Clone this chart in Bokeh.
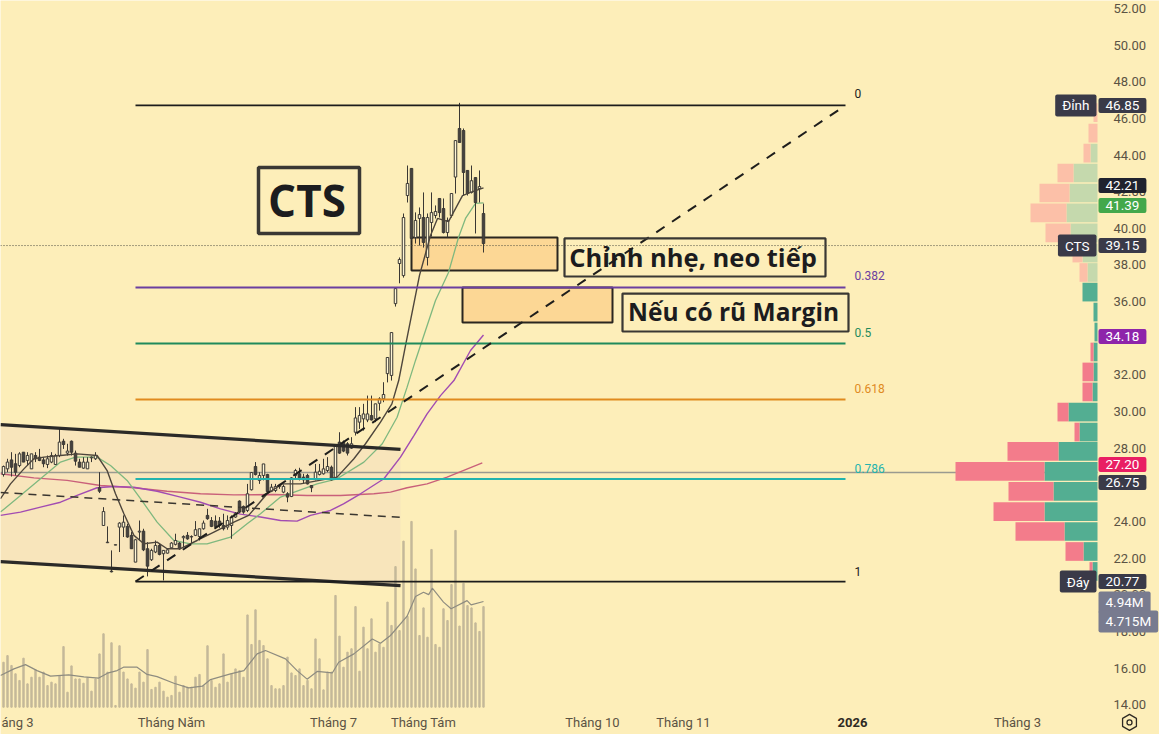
from bokeh.plotting import figure
from bokeh.models import Range1d, FixedTicker, NumeralTickFormatter, Label
from bokeh.core.properties import value
from bokeh.embed import file_html
from bokeh.resources import INLINE

BG = "#fdeeb9"
TICK_COL = "#5b5344"
NOTE_FONT = "Open Sans"

# ---------- data ----------
opens = [26.56,26.87,27.36,27.15,27.05,27.78,27.33,26.87,27.6,27.51,
         27.36,27.11,27.24,27.11,27.6,28.38,27.73,28.38,27.73,27.24,
         26.91,26.87,27.47,27.42,25.84,23.78,22.84,21.29,22.71,23.69,
         23.69,23.73,23.24,21.78,23.42,23.47,22.51,21.91,22.33,22.69,
         22.24,22.27,22.56,22.75,22.82,23.11,23.24,23.15,23.24,23.18,
         23.6,24.33,24.05,24.02,24.02,23.78,23.69,23.78,24.24,25.11,
         24.82,24.6,25.73,27.0,26.24,26.51,26.56,25.65,25.69,25.91,
         25.6,25.51,25.36,26.51,26.6,26.42,26.51,25.96,26.33,26.56,
         26.6,26.78,26.96,26.33,28.33,28.33,28.24,28.0,28.87,29.42,
         29.6,29.54,29.78,29.6,30.45,30.69,32.07,31.97,35.89,38.08,
         37.42,41.79,43.27,39.5,40.54,40.59,38.41,40.32,40.7,41.63,
         41.08,39.77,40.7,42.8,45.45,45.34,43.16,41.96,42.77,42.17,40.81]
highs = [27.05,27.42,27.78,27.69,27.78,27.78,27.78,27.69,27.78,27.96,
         27.51,27.6,27.78,27.69,29.11,28.51,28.24,28.42,27.87,27.42,
         27.51,27.51,27.55,27.78,26.69,24.78,23.73,22.42,22.73,23.96,
         24.33,23.87,23.42,23.05,24.05,23.6,22.87,22.51,22.96,22.78,
         22.42,22.51,22.87,23.33,22.87,23.24,23.42,23.24,24.02,23.6,
         24.05,24.69,24.24,24.33,24.24,24.42,24.33,24.33,24.51,25.15,
         24.87,26.05,26.69,27.24,26.69,27.14,26.6,26.05,26.05,26.05,
         26.02,25.6,26.42,26.87,26.93,26.6,26.6,25.96,27.14,27.14,
         27.42,27.51,27.05,28.14,28.87,28.42,28.33,28.6,30.24,30.24,
         30.42,30.87,30.87,30.42,30.78,31.6,32.95,34.31,36.77,38.41,
         40.81,43.43,43.27,40.87,41.14,41.96,40.81,41.96,41.25,41.63,
         41.63,40.59,41.9,44.79,46.85,45.45,43.16,43.43,42.77,43.16,41.35]
lows = [26.45,26.69,26.45,26.51,26.96,27.24,27.05,26.87,27.24,27.29,
        26.96,26.91,27.18,27.11,27.51,27.96,27.6,27.6,27.05,26.96,
        26.87,26.87,27.24,27.36,25.55,23.78,22.82,21.22,22.71,22.33,
        23.15,23.11,22.51,21.78,22.96,22.38,21.0,21.84,22.27,22.15,
        20.78,22.24,22.51,22.69,22.45,22.6,23.0,22.78,23.2,22.96,
        23.55,24.09,23.69,23.6,23.65,23.51,23.55,23.05,24.2,24.45,
        24.42,24.51,25.69,26.51,26.05,26.24,25.6,25.6,25.6,25.78,
        25.54,25.05,25.33,26.33,26.24,26.05,26.02,25.6,26.24,26.51,
        26.56,26.69,26.24,26.27,27.69,27.78,27.6,27.96,28.69,29.05,
        28.96,29.42,29.51,29.42,30.05,30.51,31.59,31.69,35.73,37.0,
        37.31,41.41,39.34,39.17,39.06,38.95,37.97,39.55,40.54,40.59,
        39.72,39.5,40.59,41.9,44.69,41.79,41.79,41.9,39.72,41.41,38.68]
closes = [27.0,27.24,26.96,26.69,27.69,27.24,27.6,27.69,27.42,27.33,
          27.15,27.42,27.6,27.6,28.33,28.2,27.84,27.78,27.29,26.96,
          27.24,27.24,27.51,27.6,25.65,24.54,22.87,21.25,22.73,23.91,
          23.96,23.15,22.51,23.0,23.47,22.45,21.56,22.42,22.69,22.2,
          22.42,22.45,22.82,22.96,22.51,23.18,23.05,23.18,23.55,23.6,
          23.91,24.15,23.73,23.73,23.78,23.6,24.05,24.24,24.45,24.51,
          24.51,25.51,26.67,26.56,26.51,27.14,25.63,25.87,25.91,25.98,
          25.91,25.33,26.38,26.78,26.33,26.27,26.05,25.84,26.69,26.74,
          26.87,27.0,26.27,28.14,27.73,27.84,27.73,28.24,29.65,29.78,
          29.87,29.87,29.54,30.42,30.69,30.93,32.95,34.31,36.71,38.3,
          40.59,42.45,39.45,40.43,40.75,39.23,40.59,40.86,40.92,40.86,
          39.77,40.43,41.9,44.79,44.69,43.05,41.9,42.6,41.41,42.28,39.17]

volumes = [2.10,2.41,1.95,1.56,1.25,2.29,1.09,1.40,1.74,1.40,
           1.64,1.01,1.17,1.09,1.48,2.83,.70,1.93,1.32,1.32,
           1.12,1.37,.75,1.32,2.49,3.43,1.64,3.01,.08,2.87,
           1.64,1.32,1.09,.89,1.64,1.17,2.69,.83,.93,1.17,
           .75,.47,.55,1.45,.70,1.01,.93,.93,1.40,1.53,
           1.01,2.87,1.25,.93,1.09,2.49,1.17,1.56,1.79,1.71,
           1.40,4.31,2.93,4.55,3.12,2.88,2.26,1.01,.86,.86,
           1.01,2.34,1.60,1.48,1.79,1.01,1.25,.86,3.19,2.26,
           .81,1.64,1.64,5.22,3.32,1.87,2.57,2.73,4.70,1.68,
           3.74,2.73,4.13,2.57,2.96,2.80,4.91,3.82,6.57,3.58,
           7.76,4.24,8.68,6.46,3.35,4.64,3.27,7.37,2.93,2.80,
           4.60,4.05,5.73,8.26,3.79,5.79,4.75,4.64,3.94,3.54,4.70]

vol_ma_x = [-0.75,2.6,5.5,8.4,11.75,16.3,20.1,23.8,26,28.4,30,33.4,35.9,38.4,42.6,46.3,49.7,51.75,
            56.75,60.1,63.4,65.5,70.5,73.4,75.9,78.4,82.2,83.8,87.6,92.2,94.25,96.75,100.9,103,
            105,106.3,107.2,110,111.9,115.9,116.9,120]
vol_ma_y = [1.48,1.79,1.99,1.71,1.45,1.51,1.42,1.36,1.59,1.71,1.87,1.87,1.53,1.43,1.12,.90,.98,1.29,
            1.56,1.71,2.49,2.65,2.26,1.71,1.31,1.67,1.60,2.10,2.49,3.19,2.99,3.35,4.25,5.17,
            5.37,5.26,5.56,4.91,4.60,4.98,4.78,4.94]

ema_fast_x = [-0.75,1.75,5.1,7.6,10.1,14.25,18.4,23.4,25.9,28,30.1,32.6,35.1,38.4,40.9,44.25,48.4,52.6,
              57.6,61.3,65.9,69.7,74.25,83.4,87.6,90.5,94.25,97.1,98.8,100.5,104,106.75,108.5,111.25,
              114.75,116.75,120]
ema_fast_y = [25.24,26.05,26.87,27.42,27.51,27.6,27.69,27.6,26.78,25.51,24.42,23.24,22.78,22.87,22.51,22.51,22.96,23.42,
              23.96,24.33,25.51,26.05,26.05,26.42,27.42,28.24,29.42,30.42,31.69,33.6,37.43,39.61,40.54,40.37,
              41.79,41.96,42.21]

ema_mid_x = [-0.75,4.25,9.25,14.25,18,23.4,26.75,30.9,34.25,38.4,42.6,46.75,50.9,56.75,60.9,64.25,
             69.25,78.4,83.4,90.1,94.7,98.4,100.9,103,108,111.25,113.75,115.5,118,120]
ema_mid_y = [24.51,25.42,26.33,27.24,27.51,27.51,27.05,26.24,25.24,23.96,22.96,22.78,22.78,23.15,23.87,24.42,
             25.33,26.05,26.33,27.24,28.24,29.69,31.33,32.79,36.06,37.59,39.5,40.54,41.36,41.39]

ema_slow_x = [-0.75,4.25,9.25,14.25,18.4,23.4,27.6,32.6,38.4,44.25,49.25,54.25,59.25,64.25,69.25,73.4,
              76.75,81.75,85,89.25,95.1,99.25,102.6,105.9,109.25,112.6,116.75,120]
ema_slow_y = [24.33,24.51,24.78,25.05,25.42,25.84,25.91,25.87,25.65,25.33,25.05,24.69,24.4,24.24,24.05,24.02,
              24.33,24.6,24.96,25.51,26.33,27.51,28.69,29.87,30.87,31.69,33.33,34.18]

ema_long_x = [-0.75,7.6,15.9,24.25,32.6,40.9,49.25,57.6,67.6,75.9,84.25,92.6,96.75,100.9,105.9,110.9,119.7]
ema_long_y = [26.6,26.38,26.24,25.96,25.84,25.65,25.51,25.45,25.47,25.42,25.42,25.51,25.6,25.84,26.05,26.42,27.2]

fib_levels = ["0", "0.382", "0.5", "0.618", "0.786", "1"]
fib_prices = [46.71, 36.77, 33.71, 30.66, 26.32, 20.72]
fib_start, fib_end = 33.0, 210.5
fib_label_x = 212.75
fib_label_y = [47.36, 37.42, 34.31, 31.27, 26.87, 21.27]
fib_colors = ["#1c1c1c", "#6b3fa0", "#1f8a5c", "#e08a1e", "#22b3ae", "#1c1c1c"]

channel_x = [-0.75, 99.25]
channel_top = [29.29, 27.93]
channel_mid = [25.58, 24.22]
channel_bottom = [21.81, 20.5]

trend_x = [33.0, 210.5]
trend_y = [20.72, 46.71]

zone_left = [102.0, 114.75]
zone_right = [138.5, 152.25]
zone_top = [39.5, 36.77]
zone_bottom = [37.7, 34.86]

note_texts = ["CTS", "Chỉnh nhẹ, neo tiếp", "Nếu có rũ Margin"]
note_left = [63.75, 140.25, 154.75]
note_right = [89.0, 205.5, 211.25]
note_top = [43.32, 39.45, 36.44]
note_bottom = [39.72, 37.37, 34.37]
note_sizes = ["44px", "25.5px", "24.5px"]

last_price_line = 39.06
prev_line = 26.67

profile_prices = [46.32,45.2,44.11,43.02,41.93,40.84,39.75,38.65,37.59,36.52,35.43,34.34,
                  33.25,32.16,31.07,29.97,28.88,27.82,26.73,25.64,24.54,23.45,22.36,21.27]
profile_up = [0,0,7,24,28,31,27,15,10,15,4,3,4,4,5,29,18,39,53,44,53,33,14,5]
profile_down = [4,9,7,16,30,36,25,10,8,0,0,0,3,11,10,11,5,51,89,45,51,49,18,3]

y_ticks = [14,16,18,20,22,24,26,28,30,32,34,36,38,40,42,44,46,48,50,52]
x_ticks = [42.0, 82.5, 105.0, 147.25, 170.0, 253.5]
x_labels = ["Tháng Năm", "Tháng 7", "Tháng Tám", "Tháng 10", "Tháng 11", "Tháng 3"]
edge_label = ("áng 3", 7.5)
year_label = ("2026", 212.25)

tag_texts = ["46.85", "42.21", "41.39", "39.15", "34.18", "27.20", "26.75", "20.77", "4.94M", "4.715M"]
tag_prices = [46.71, 42.34, 41.25, 39.06, 34.1, 27.11, 26.13, 20.72, 19.58, 18.54]
tag_colors = ["#3a3a48", "#20222e", "#43a84b", "#3a3a48", "#8e24aa", "#e91e63", "#3a3a48", "#3a3a48", "#787b8f", "#787b8f"]
side_texts = ["Đỉnh", "CTS", "Đáy"]
side_prices = [46.71, 39.06, 20.72]

AXIS_BAND_Y = 13.03

# ---------- figure ----------
p = figure(width=1159, height=734, output_backend="svg", toolbar_location=None,
           x_range=Range1d(-0.75, 289.0), y_range=Range1d(12.37, 52.437),
           background_fill_color=BG, border_fill_color=BG,
           min_border=0, outline_line_color=None, x_axis_location="below", y_axis_location="right")
p.extra_y_ranges = {"vol": Range1d(-1.276, 33.02)}
p.extra_x_ranges = {"profile": Range1d(1097, -62)}
p.grid.visible = False

p.xaxis.fixed_location = 13.98
p.yaxis.fixed_location = 274.5
p.xaxis.ticker = FixedTicker(ticks=x_ticks)
p.xaxis.major_label_overrides = dict(zip(x_ticks, x_labels))
p.yaxis.ticker = FixedTicker(ticks=y_ticks)
p.yaxis.formatter = NumeralTickFormatter(format="0.00")
for ax, standoff in ((p.xaxis[0], 4), (p.yaxis[0], 6)):
    ax.axis_line_color = None
    ax.major_tick_line_color = None
    ax.minor_tick_line_color = None
    ax.major_label_standoff = standoff
    ax.major_label_text_color = TICK_COL
    ax.major_label_text_font = "Roboto"
    ax.major_label_text_font_size = "13px"

xs = list(range(len(closes)))

# channel
p.varea(x=channel_x, y1=channel_bottom, y2=channel_top, fill_color="#f8e5bb", fill_alpha=1)

# volume
p.vbar(x=xs, top=volumes, bottom=0, width=0.34, color="#c4b899", y_range_name="vol")
p.line(vol_ma_x, vol_ma_y, line_color="#8e8c80", line_width=1.2, y_range_name="vol")

# zones
p.quad(left=zone_left, right=zone_right, top=zone_top, bottom=zone_bottom,
       fill_color="#fcd795", line_color="#2a2620", line_width=2)

# horizontal reference lines
p.line([-0.75, 273.5], [prev_line, prev_line], line_color="#9a9a90", line_width=1.5)
p.line([-0.75, 265.5], [last_price_line, last_price_line], line_color="#4a4a40", line_width=1, line_dash=[1, 2])

# long averages
p.line(ema_long_x, ema_long_y, line_color="#c9607a", line_width=1.4)
p.line(ema_slow_x, ema_slow_y, line_color="#a24cb2", line_width=1.4)
p.line(ema_mid_x, ema_mid_y, line_color="#7fb87f", line_width=1.3)

# candles
up = [i for i in xs if closes[i] >= opens[i]]
dn = [i for i in xs if closes[i] < opens[i]]
p.segment(xs, lows, xs, highs, line_color="#3a3733", line_width=1)
p.vbar(up, top=[closes[i] for i in up], bottom=[opens[i] for i in up], width=0.62,
       fill_color="#fff6d6", line_color="#3a3733", line_width=1)
p.vbar(dn, top=[opens[i] for i in dn], bottom=[closes[i] for i in dn], width=0.62,
       fill_color="#45423f", line_color="#3a3733", line_width=1)
p.line(ema_fast_x, ema_fast_y, line_color="#4e463c", line_width=1.4)

# channel lines
p.line(channel_x, channel_top, line_color="#2b2a28", line_width=3.2)
p.line(channel_x, channel_bottom, line_color="#2b2a28", line_width=3.2)
p.line(channel_x, channel_mid, line_color="#3a3630", line_width=1.5, line_dash=[8, 6])

# fib
for lvl, price, ly, col in zip(fib_levels, fib_prices, fib_label_y, fib_colors):
    p.line([fib_start, fib_end], [price, price], line_color=col, line_width=2 if col != "#1c1c1c" else 1.8)
    p.add_layout(Label(x=fib_label_x, y=ly, text=lvl, text_color=col, text_font="Roboto",
                       text_font_size="12px", text_baseline="middle"))

# diagonal trend
p.line(trend_x, trend_y, line_color="#1f1e1c", line_width=2, line_dash=[10, 9])

# notes
for txt, l, r, t, b, sz in zip(note_texts, note_left, note_right, note_top, note_bottom, note_sizes):
    p.quad(left=[l], right=[r], top=[t], bottom=[b], fill_color=None, line_color="#3a3834",
           line_width=3.5 if txt == "CTS" else 2.2)
    p.text(x=[(l + r) / 2 - 0.5], y=[(t + b) / 2 + 0.05], text=[txt], text_align="center", text_baseline="middle",
           text_font=value(NOTE_FONT), text_font_style="bold", text_font_size=sz, text_color="#1c1c1e")

# volume profile
r_light = 9
for lo, hi, cu, cd in ((0, r_light, "#c5d9ad", "#fcc0a8"), (r_light, len(profile_prices), "#53ae92", "#f37c8b")):
    ys = profile_prices[lo:hi]
    ups = profile_up[lo:hi]
    dns = [a + b for a, b in zip(ups, profile_down[lo:hi])]
    p.hbar(y=ys, left=0, right=ups, height=1.02, fill_color=cu, line_color=None, x_range_name="profile")
    p.hbar(y=ys, left=ups, right=dns, height=1.02, fill_color=cd, line_color=None, x_range_name="profile")

# right-side price tags
tag_x = 273.75
for txt, price, col in zip(tag_texts, tag_prices, tag_colors):
    p.add_layout(Label(x=tag_x, y=price, text=txt, text_color="white", text_font="Roboto",
                       text_font_size="13.5px", text_baseline="middle", background_fill_color=col,
                       padding=(7, 3), border_radius=2))
for txt, price in zip(side_texts, side_prices):
    p.add_layout(Label(x=273.25, y=price, text=txt, text_color="white", text_font="Roboto",
                       text_font_size="13.5px", text_baseline="middle", text_align="right",
                       background_fill_color="#3a3a48", padding=(7, 3), border_radius=2))

# x labels that need their own handling: the part left visible at the page edge, and the bold year
p.add_layout(Label(x=edge_label[1], y=AXIS_BAND_Y, text=edge_label[0], text_color=TICK_COL, text_font="Roboto",
                   text_font_size="13px", text_baseline="middle", text_align="right"))
p.add_layout(Label(x=year_label[1], y=AXIS_BAND_Y, text=year_label[0], text_color="#2e2a24", text_font="Roboto",
                   text_font_style="bold", text_font_size="13px", text_baseline="middle", text_align="center"))

# settings icon
p.scatter([281.5], [AXIS_BAND_Y], marker="hex", size=16, angle=0.5236, fill_color=None, line_color="#2e2a24",
          line_width=1.3)
p.scatter([281.5], [AXIS_BAND_Y], marker="circle", size=5, fill_color=None, line_color="#2e2a24",
          line_width=1.3)

open("out.html", "w").write(file_html(p, INLINE))
